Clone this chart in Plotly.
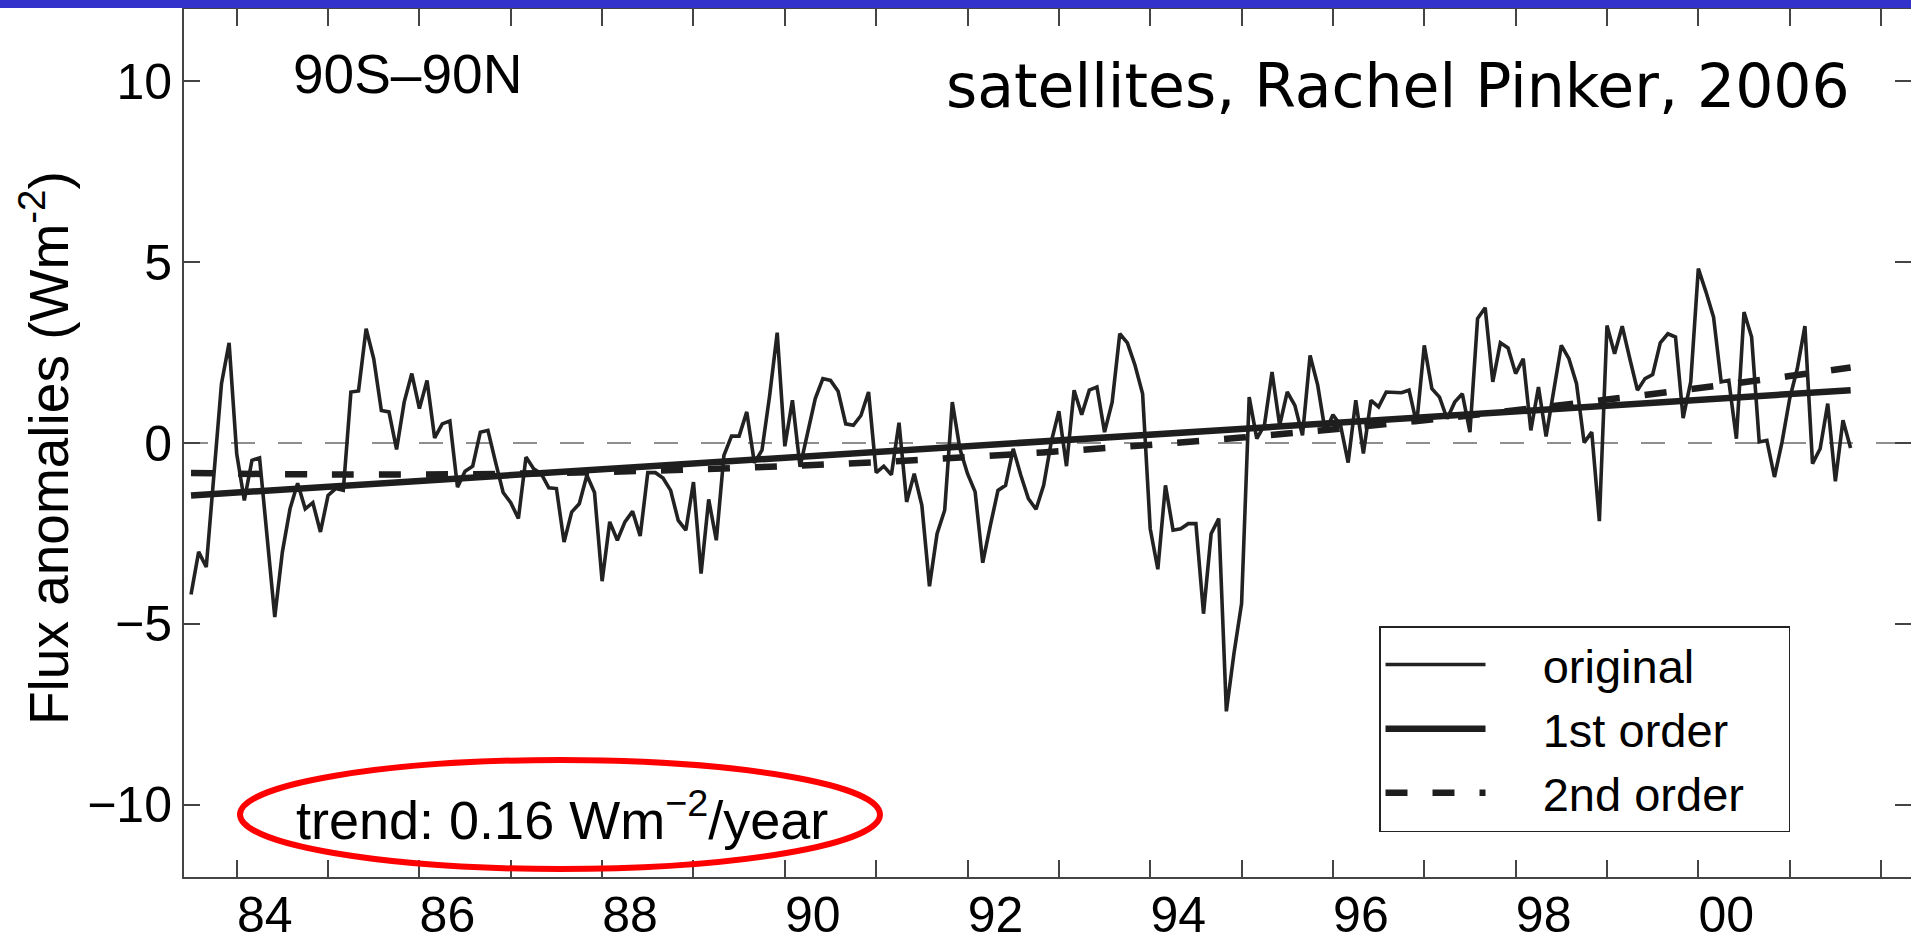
import numpy as np
import plotly.graph_objects as go

# ---------------- data (monthly anomalies, W m-2), starting July 1983 ----------------
start_year = 1983.5  # first month = July 1983

anom_1983_1986 = [-4.19, -3.01, -3.43, -1.00, 1.64, 2.77,
                  -0.30, -1.59, -0.48, -0.41, -2.50, -4.81, -3.01, -1.82, -1.11, -1.82, -1.65, -2.46,
                  -1.45, -1.26, -1.31, 1.41, 1.44, 3.16, 2.33, 0.90, 0.86, -0.18, 1.13, 1.92,
                  0.95, 1.73, 0.14, 0.53, 0.61, -1.22, -0.78, -0.64, 0.30, 0.35, -0.53, -1.37]
anom_1987_1990 = [-1.65, -2.09, -0.39, -0.71, -0.85, -1.24, -1.26, -2.74, -1.91, -1.68, -0.89, -1.37,
                  -3.82, -2.18, -2.69, -2.18, -1.89, -2.57, -0.82, -0.82, -0.97, -1.31, -2.14, -2.41,
                  -1.08, -3.61, -1.56, -2.69, -0.34, 0.19, 0.19, 0.86, -0.55, -0.20, 1.30, 3.05,
                  -0.09, 1.18, -0.66, 0.30, 1.23, 1.78, 1.73, 1.43, 0.53, 0.49, 0.76, 1.41]
anom_1991_1994 = [-0.82, -0.64, -0.88, 0.56, -1.63, -0.85, -1.72, -3.96, -2.51, -1.86, 1.13, -0.16,
                  -0.85, -1.35, -3.31, -2.28, -1.31, -1.17, -0.16, -0.89, -1.54, -1.83, -1.17, 0.03,
                  0.88, -0.64, 1.46, 0.78, 1.46, 1.55, 0.30, 1.13, 3.02, 2.77, 2.15, 1.36,
                  -2.37, -3.49, -1.17, -2.41, -2.37, -2.23, -2.23, -4.72, -2.51, -2.09, -7.42, -5.82]
anom_1995_1998 = [-4.44, 1.27, 0.12, 0.49, 1.96, 0.49, 1.41, 1.04, 0.21, 2.42, 1.60, 0.30,
                  0.78, 0.49, -0.54, 1.18, -0.29, 1.18, 1.00, 1.41, 1.41, 1.39, 1.46, 0.53,
                  2.70, 1.50, 1.27, 0.67, 1.13, 1.36, 0.30, 3.44, 3.74, 1.69, 2.77, 2.63,
                  1.92, 2.33, 0.35, 1.55, 0.18, 1.50, 2.70, 2.33, 1.64, 0.01, 0.30, -2.16]
anom_1999_2001 = [3.25, 2.47, 3.23, 2.33, 1.46, 1.78, 1.89, 2.77, 3.02, 2.93, 0.69, 1.69,
                  4.82, 4.18, 3.48, 1.69, 1.73, 0.12, 3.62, 2.93, 0.03, 0.07, -0.94, 0.03,
                  1.23, 2.06, 3.23, -0.57, -0.16, 1.09, -1.06, 0.63, -0.14]

# fitted curves
trend1_years = [1983.5, 2001.667]
trend1_vals = [-1.45, 1.46]
trend2_years = [1983.5, 1985.0, 1987.0, 1989.0, 1991.0, 1993.0, 1995.0, 1997.0, 1999.0, 2001.0, 2001.667]
trend2_vals = [-0.83, -0.87, -0.85, -0.73, -0.53, -0.23, 0.15, 0.63, 1.20, 1.85, 2.09]

label_years = [1984, 1986, 1988, 1990, 1992, 1994, 1996, 1998, 2000]
label_text = ["84", "86", "88", "90", "92", "94", "96", "98", "00"]
y_ticks = [-10, -5, 0, 5, 10]

series_names = ["original", "1st order", "2nd order"]

# ---------------- build ----------------
anom = anom_1983_1986 + anom_1987_1990 + anom_1991_1994 + anom_1995_1998 + anom_1999_2001
months_x = start_year + np.arange(len(anom)) / 12.0

FONT = "Liberation Sans, Arial, sans-serif"
INK = "#1e1e1e"
NB = "\u00a0"

W, H = 1911, 944
ML, MR, MT, MB = 184, 0, 9, 67
PW, PH = W - ML - MR, H - MT - MB


def px(xp):
    return (xp - ML) / PW


def py(yp):
    return (H - MB - yp) / PH


fig = go.Figure()
fig.add_trace(go.Scatter(x=months_x, y=anom, mode="lines", name=NB * 4 + series_names[0],
                         line=dict(color="#222222", width=3.6)))
fig.add_trace(go.Scatter(x=trend1_years, y=trend1_vals, mode="lines", name=NB * 4 + series_names[1],
                         line=dict(color=INK, width=6.5)))
fig.add_trace(go.Scatter(x=trend2_years, y=trend2_vals, mode="lines",
                         name=NB * 4 + series_names[2] + NB * 3,
                         line=dict(color=INK, width=6.5, dash="22px,25px", shape="spline")))

# zero reference line
fig.add_hline(y=0, line=dict(color="#6a6a6a", width=1.5, dash="24px,23px"), layer="below")

# blue banner across the top of the slide
fig.add_shape(type="rect", xref="paper", yref="paper", x0=-0.2, x1=1.2,
              y0=1 + 1.0 / PH, y1=1 + 9.0 / PH, line=dict(width=0),
              fillcolor="#3333cc", layer="above")
# red ellipse around the trend text
fig.add_shape(type="circle", xref="paper", yref="paper", x0=px(240), x1=px(880),
              y0=py(869), y1=py(760), line=dict(color="#ff0000", width=6), layer="above")

axis_common = dict(showline=True, linecolor="#444", linewidth=2, mirror="ticks",
                   ticks="inside", tickcolor="#444", tickwidth=1.5,
                   showgrid=False, zeroline=False,
                   tickfont=dict(family=FONT, size=50, color="#000"))

fig.update_xaxes(range=[1983.423, 2002.328], tickmode="array", tickvals=label_years,
                 ticktext=label_text, ticklen=17, ticklabelshift=28, ticklabelstandoff=-7,
                 minor=dict(dtick=1, tick0=1984, ticks="inside", ticklen=17, tickwidth=1.5,
                            tickcolor="#444", showgrid=False),
                 **axis_common)
fig.update_yaxes(range=[-12, 12], tickmode="array", tickvals=y_ticks,
                 ticklen=16, **axis_common)

fig.add_annotation(text="Flux anomalies (Wm<sup>-2</sup>)", x=px(45), y=py(448), xref="paper", yref="paper",
                   textangle=-90, showarrow=False, xanchor="center", yanchor="middle",
                   font=dict(family=FONT, size=55, color="#000"))
fig.add_annotation(text="90S\u201390N", x=px(407), y=py(74), xref="paper", yref="paper",
                   showarrow=False, xanchor="center", yanchor="middle",
                   font=dict(family=FONT, size=55, color="#000"))
fig.add_annotation(text="satellites, Rachel Pinker, 2006", x=px(1852), y=py(86), xref="paper", yref="paper",
                   showarrow=False, xanchor="right", yanchor="middle",
                   font=dict(family="DejaVu Sans, sans-serif", size=60, color="#000"))
fig.add_annotation(text="trend: 0.16 Wm<sup>\u22122</sup>/year", x=px(562), y=py(816), xref="paper", yref="paper",
                   showarrow=False, xanchor="center", yanchor="middle",
                   font=dict(family=FONT, size=54, color="#000"))

fig.update_layout(
    width=W, height=H,
    margin=dict(l=ML, r=MR, t=MT, b=MB, autoexpand=False),
    paper_bgcolor="white", plot_bgcolor="white",
    showlegend=True,
    legend=dict(x=px(1379), y=py(626), xanchor="left", yanchor="top",
                bgcolor="white", bordercolor="#222", borderwidth=1.5,
                font=dict(family=FONT, size=47, color="#000"),
                itemwidth=100, tracegroupgap=0),
)

fig.write_html("out.html")
